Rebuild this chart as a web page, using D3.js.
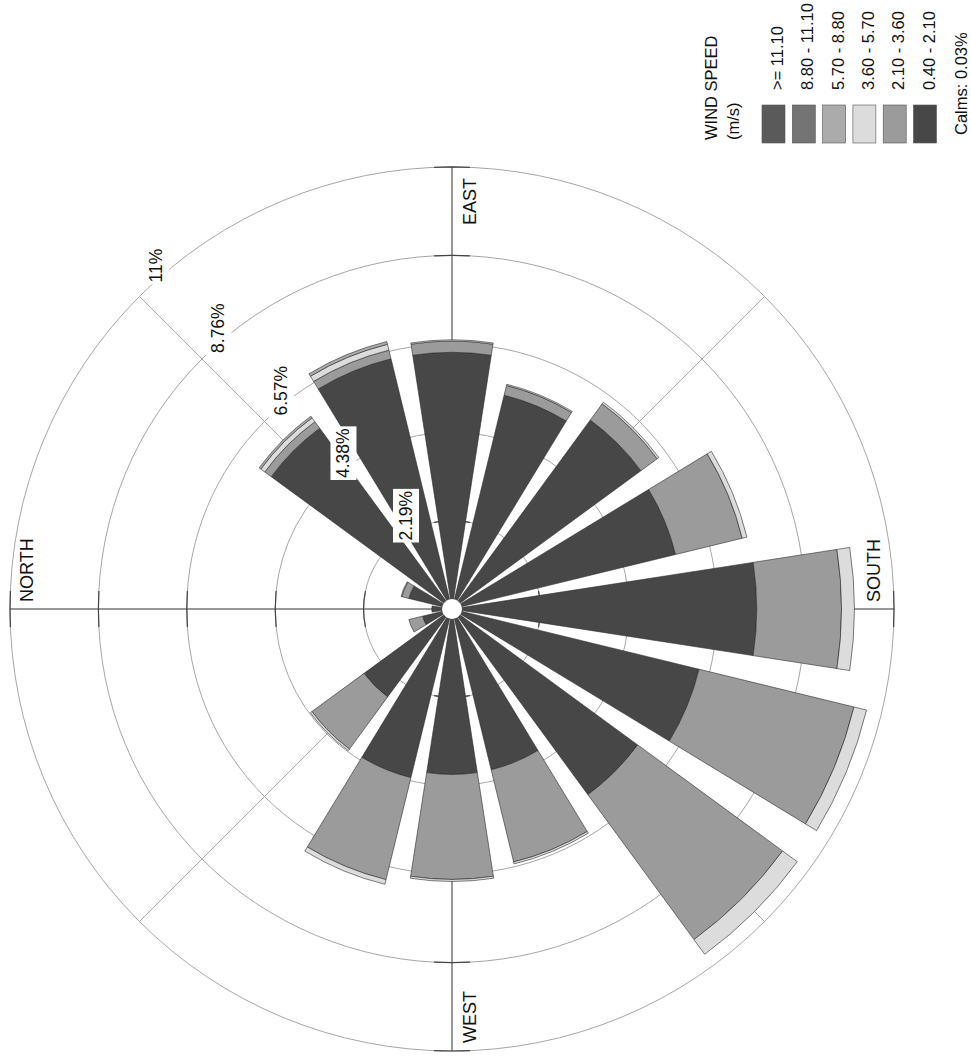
<!DOCTYPE html>
<html>
<head>
<meta charset="utf-8">
<script src="https://cdn.jsdelivr.net/npm/d3@7"></script>
<style>
  html, body { margin: 0; padding: 0; background: #fff; }
  svg text { font-family: "Liberation Sans", Arial, sans-serif; fill: #111; }
</style>
</head>
<body>
<svg id="wind-rose" width="971" height="1057"></svg>
<script>
// directions clockwise from north
const directions = ["N", "NNE", "NE", "ENE", "E", "ESE", "SE", "SSE",
  "S", "SSW", "SW", "WSW", "W", "WNW", "NW", "NNW"];

// frequency (%) of each speed class by direction
const freq040 = [0.50, 1.10, 5.55, 6.38, 6.36, 5.45, 5.80, 5.70, 7.55, 6.30, 5.70, 4.10, 4.10, 4.30, 2.70, 0.75];
const freq210 = [0.00, 0.18, 0.20, 0.22, 0.28, 0.25, 0.50, 1.70, 2.10, 3.95, 4.45, 2.35, 2.60, 2.60, 1.60, 0.35];
const freq360 = [0.00, 0.02, 0.12, 0.15, 0.03, 0.03, 0.05, 0.12, 0.32, 0.32, 0.45, 0.05, 0.05, 0.12, 0.05, 0.00];
const freq570 = [0.00, 0.00, 0.05, 0.07, 0.00, 0.00, 0.00, 0.00, 0.00, 0.00, 0.00, 0.00, 0.00, 0.00, 0.00, 0.00];
const freq880 = [0, 0, 0, 0, 0, 0, 0, 0, 0, 0, 0, 0, 0, 0, 0, 0];
const freq1110 = [0, 0, 0, 0, 0, 0, 0, 0, 0, 0, 0, 0, 0, 0, 0, 0];

// speed classes, inner to outer
const classKeys = ["c040", "c210", "c360", "c570", "c880", "c1110"];
const classLabels = ["0.40 - 2.10", "2.10 - 3.60", "3.60 - 5.70", "5.70 - 8.80", "8.80 - 11.10", ">= 11.10"];
const classColors = ["#474747", "#9b9b9b", "#dcdcdc", "#ababab", "#747474", "#5a5a5a"];

const ringValues = [2.19, 4.38, 6.57, 8.76, 10.95];
const ringLabels = ["2.19%", "4.38%", "6.57%", "8.76%", "11%"];
const axisLabels = ["NORTH", "EAST", "SOUTH", "WEST"];
const legendTitle = ["WIND SPEED", "(m/s)"];
const calmsText = "Calms: 0.03%";

const svg = d3.select("svg#wind-rose");
const pageHeight = +svg.attr("height");

// the whole sheet is turned a quarter turn counter-clockwise
const page = svg
  .append("g")
  .attr("transform", `translate(0, ${pageHeight}) rotate(-90)`);

const center = { x: 448, y: 452 };
const outerRadius = 442;

const rScale = d3
  .scaleLinear()
  .domain([0, ringValues[ringValues.length - 1]])
  .range([0, outerRadius]);
const angleScale = d3
  .scaleLinear()
  .domain([0, directions.length])
  .range([0, 2 * Math.PI]);
const barHalf = (17.6 / 2) * (Math.PI / 180);

const rose = page
  .append("g")
  .attr("id", "rose")
  .attr("transform", `translate(${center.x}, ${center.y})`);

const polar = (a, r) => [r * Math.sin(a), -r * Math.cos(a)];

// rings
rose
  .selectAll("circle.ring")
  .data(ringValues)
  .join("circle")
  .attr("class", "ring")
  .attr("r", (d) => rScale(d))
  .attr("fill", "none")
  .attr("stroke", "#959595")
  .attr("stroke-width", 0.85);

// diagonal spokes
rose
  .selectAll("line.diag")
  .data([45, 135, 225, 315])
  .join("line")
  .attr("class", "diag")
  .attr("x1", 0)
  .attr("y1", 0)
  .attr("x2", (d) => polar((d * Math.PI) / 180, outerRadius)[0])
  .attr("y2", (d) => polar((d * Math.PI) / 180, outerRadius)[1])
  .attr("stroke", "#959595")
  .attr("stroke-width", 0.85);

// main compass axes
const mainAngles = [0, 90, 180, 270];
rose
  .selectAll("line.axis")
  .data(mainAngles)
  .join("line")
  .attr("class", "axis")
  .attr("x1", 0)
  .attr("y1", 0)
  .attr("x2", (d) => polar((d * Math.PI) / 180, outerRadius)[0])
  .attr("y2", (d) => polar((d * Math.PI) / 180, outerRadius)[1])
  .attr("stroke", "#333")
  .attr("stroke-width", 1);

// short ticks where the axes cross the rings
mainAngles.forEach((deg) => {
  const a = (deg * Math.PI) / 180;
  ringValues.forEach((v) => {
    const r = rScale(v);
    const half = 18 / r;
    rose
      .append("path")
      .attr("class", "ring-tick")
      .attr("d", d3.arc().innerRadius(r).outerRadius(r).startAngle(a - half).endAngle(a + half)())
      .attr("fill", "none")
      .attr("stroke", "#444")
      .attr("stroke-width", 1.2);
  });
});

// stacked bars
const rows = directions.map((dir, i) => ({
  dir: dir,
  c040: freq040[i],
  c210: freq210[i],
  c360: freq360[i],
  c570: freq570[i],
  c880: freq880[i],
  c1110: freq1110[i],
}));
const stacked = d3.stack().keys(classKeys)(rows);

const barArc = d3
  .arc()
  .innerRadius((d) => rScale(d[0]))
  .outerRadius((d) => rScale(d[1]))
  .startAngle((d) => angleScale(d.index) - barHalf)
  .endAngle((d) => angleScale(d.index) + barHalf);

stacked.forEach((layer, k) => {
  rose
    .append("g")
    .attr("class", `layer ${layer.key}`)
    .selectAll("path")
    .data(layer.map((d, i) => Object.assign([d[0], d[1]], { index: i })).filter((d) => d[1] > d[0]))
    .join("path")
    .attr("d", barArc)
    .attr("fill", classColors[k])
    .attr("stroke", "#2a2a2a")
    .attr("stroke-width", 0.6);
});

// calm hole
rose.append("circle").attr("r", 10).attr("fill", "#fff");

// ring labels along the NE spoke
const ringLabelGroup = rose.append("g").attr("class", "ring-labels");
ringValues.forEach((v, i) => {
  const d = rScale(v) / Math.SQRT2;
  const extra = i === ringValues.length - 1 ? 8 : 0;
  const g = ringLabelGroup
    .append("g")
    .attr("transform", `translate(${d + 6 + extra}, ${-d + 22.5})`);
  const t = g
    .append("text")
    .attr("x", 0)
    .attr("y", 0)
    .style("font-size", "17.5px")
    .text(ringLabels[i]);
  const bb = t.node().getBBox();
  g.insert("rect", "text")
    .attr("x", bb.x - 2)
    .attr("y", -19)
    .attr("width", bb.width + 4)
    .attr("height", 26)
    .attr("fill", "#fff");
});

// compass labels
const axisLabelPos = [
  { x: 7, y: -outerRadius + 23, anchor: "start" },
  { x: outerRadius - 11, y: 24, anchor: "end" },
  { x: 7, y: outerRadius - 14, anchor: "start" },
  { x: -outerRadius + 8, y: 24, anchor: "start" },
];
rose
  .selectAll("text.axis-label")
  .data(axisLabels)
  .join("text")
  .attr("class", "axis-label")
  .attr("x", (d, i) => axisLabelPos[i].x)
  .attr("y", (d, i) => axisLabelPos[i].y)
  .attr("text-anchor", (d, i) => axisLabelPos[i].anchor)
  .style("font-size", "18px")
  .text((d) => d);

// legend
const legend = page.append("g").attr("class", "legend");
legend
  .selectAll("text.legend-title")
  .data(legendTitle)
  .join("text")
  .attr("class", "legend-title")
  .attr("x", 917)
  .attr("y", (d, i) => 717 + i * 22)
  .style("font-size", "16.5px")
  .text((d) => d);

const legendOrder = d3.range(classLabels.length).reverse();
legendOrder.forEach((k, row) => {
  const y = 762 + row * 30.3;
  legend
    .append("rect")
    .attr("x", 914)
    .attr("y", y)
    .attr("width", 38)
    .attr("height", 23)
    .attr("fill", classColors[k])
    .attr("stroke", "#555")
    .attr("stroke-width", 0.6);
  legend
    .append("text")
    .attr("x", 967)
    .attr("y", y + 21)
    .style("font-size", "16.5px")
    .text(classLabels[k]);
});

legend
  .append("text")
  .attr("x", 922)
  .attr("y", 967)
  .style("font-size", "16.5px")
  .text(calmsText);
</script>
</body>
</html>
